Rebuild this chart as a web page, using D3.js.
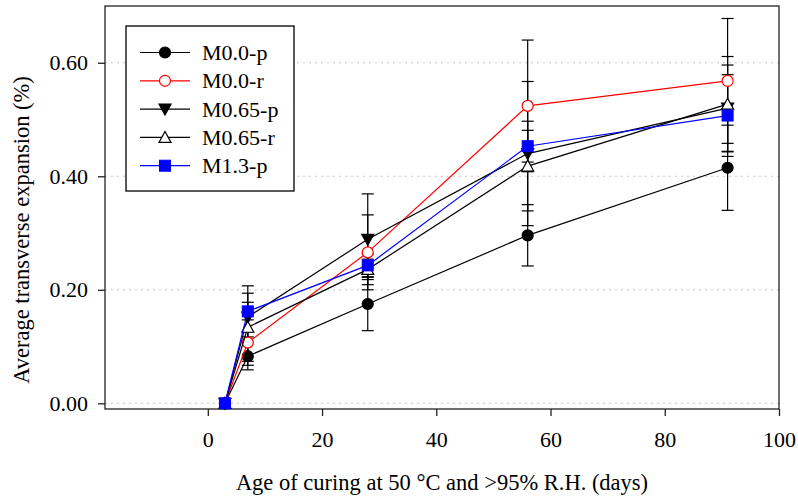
<!DOCTYPE html>
<html>
<head>
<meta charset="utf-8">
<script src="https://cdn.jsdelivr.net/npm/d3@7"></script>
<style>
  body { margin: 0; background: #fff; }
</style>
</head>
<body>
<div id="chart"></div>
<script>
var days = [3, 7, 28, 56, 91];
var seriesNames = ["M0.0-p", "M0.0-r", "M0.65-p", "M0.65-r", "M1.3-p"];
var m00p = [0, 0.083, 0.175, 0.296, 0.415];
var m00r = [0, 0.107, 0.266, 0.524, 0.568];
var m065p = [0, 0.152, 0.289, 0.440, 0.520];
var m065r = [0, 0.134, 0.236, 0.418, 0.527];
var m13p = [0, 0.162, 0.243, 0.453, 0.507];
var m00pErr = [0, 0.024, 0.047, 0.054, 0.075];
var m00rErr = [0, 0.040, 0.066, 0.116, 0.110];
var m065pErr = [0, 0.026, 0.080, 0.127, 0.076];
var m065rErr = [0, 0.060, 0.018, 0.079, 0.084];
var m13pErr = [0, 0.045, 0.020, 0.028, 0.072];
var xTicks = [0, 20, 40, 60, 80, 100];
var yTicks = [0, 0.2, 0.4, 0.6];

var width = 798, height = 501;
var margin = {left: 105, right: 19, top: 6, bottom: 92};
var serif = "Liberation Serif";

var series = [
  {name: seriesNames[0], vals: m00p, err: m00pErr, color: "#000", shape: "circle", fill: "#000"},
  {name: seriesNames[1], vals: m00r, err: m00rErr, color: "#ff0000", shape: "circle", fill: "#fff"},
  {name: seriesNames[2], vals: m065p, err: m065pErr, color: "#000", shape: "tridown", fill: "#000"},
  {name: seriesNames[3], vals: m065r, err: m065rErr, color: "#000", shape: "triup", fill: "#fff"},
  {name: seriesNames[4], vals: m13p, err: m13pErr, color: "#0000ff", shape: "square", fill: "#0000ff"}
];

var svg = d3.select("#chart").append("svg")
  .attr("width", width)
  .attr("height", height);

var x = d3.scaleLinear().domain([-18, 100]).range([margin.left, width - margin.right]);
var y = d3.scaleLinear().domain([-0.01, 0.70]).range([height - margin.bottom, margin.top]);

// grid
svg.append("g").selectAll("line")
  .data(yTicks).enter().append("line")
  .attr("x1", x(-18)).attr("x2", x(100))
  .attr("y1", d => y(d)).attr("y2", d => y(d))
  .attr("stroke", "#c8c8c8")
  .attr("stroke-width", 1)
  .attr("stroke-dasharray", "2,4");

// frame
svg.append("rect")
  .attr("x", x(-18)).attr("y", y(0.70))
  .attr("width", x(100) - x(-18))
  .attr("height", y(-0.01) - y(0.70))
  .attr("fill", "none")
  .attr("stroke", "#222")
  .attr("stroke-width", 1.3);

var xAxis = svg.append("g")
  .attr("transform", "translate(0," + y(-0.01) + ")")
  .call(d3.axisBottom(x).tickValues(xTicks).tickSize(7).tickPadding(15).tickFormat(d3.format("d")));
var yAxis = svg.append("g")
  .attr("transform", "translate(" + x(-18) + ",0)")
  .call(d3.axisLeft(y).tickValues(yTicks).tickSize(7).tickPadding(10).tickFormat(d3.format(".2f")));
[xAxis, yAxis].forEach(function(a) {
  a.attr("font-family", serif);
  a.select(".domain").remove();
  a.selectAll("line").attr("stroke", "#222").attr("stroke-width", 1.3);
  a.selectAll("text").attr("font-family", serif).attr("font-size", 22).attr("fill", "#000");
});

svg.append("text")
  .attr("x", 442)
  .attr("y", 490)
  .attr("text-anchor", "middle")
  .attr("font-family", serif)
  .attr("font-size", 22.5)
  .text("Age of curing at 50 °C and >95% R.H. (days)");

svg.append("text")
  .attr("transform", "translate(29,230) rotate(-90)")
  .attr("text-anchor", "middle")
  .attr("font-family", serif)
  .attr("font-size", 22.5)
  .text("Average transverse expansion (%)");

function marker(sel, shape, color, fill) {
  if (shape === "circle") {
    sel.append("circle").attr("r", 5.5).attr("fill", fill).attr("stroke", color).attr("stroke-width", 1.2);
  } else if (shape === "square") {
    sel.append("rect").attr("x", -5.5).attr("y", -5.5).attr("width", 11).attr("height", 11)
      .attr("fill", fill).attr("stroke", color);
  } else if (shape === "tridown") {
    sel.append("path").attr("d", "M-6,-5L6,-5L0,6Z").attr("fill", fill).attr("stroke", color).attr("stroke-width", 1.2);
  } else {
    sel.append("path").attr("d", "M-6,5L6,5L0,-6Z").attr("fill", fill).attr("stroke", color).attr("stroke-width", 1.2);
  }
}

var line = d3.line().x((d, i) => x(days[i])).y(d => y(d));

// error bars first
series.forEach(function(s) {
  var g = svg.append("g");
  s.vals.forEach(function(v, i) {
    if (s.err[i] === 0) return;
    var cx = x(days[i]);
    g.append("line").attr("x1", cx).attr("x2", cx)
      .attr("y1", y(v - s.err[i])).attr("y2", y(v + s.err[i]))
      .attr("stroke", "#000").attr("stroke-width", 1.2);
    [v - s.err[i], v + s.err[i]].forEach(function(e) {
      g.append("line").attr("x1", cx - 6).attr("x2", cx + 6)
        .attr("y1", y(e)).attr("y2", y(e))
        .attr("stroke", "#000").attr("stroke-width", 1.2);
    });
  });
});

series.forEach(function(s) {
  svg.append("path")
    .datum(s.vals)
    .attr("d", line)
    .attr("fill", "none")
    .attr("stroke", s.color)
    .attr("stroke-width", 1.2);
  svg.append("g").selectAll("g")
    .data(s.vals).enter().append("g")
    .attr("transform", (d, i) => "translate(" + x(days[i]) + "," + y(d) + ")")
    .each(function() { marker(d3.select(this), s.shape, s.color, s.fill); });
});

// legend
var legend = svg.append("g").attr("transform", "translate(126,26)");
legend.append("rect")
  .attr("width", 168).attr("height", 165)
  .attr("fill", "#fff").attr("stroke", "#000").attr("stroke-width", 1.3);
series.forEach(function(s, i) {
  var row = legend.append("g").attr("transform", "translate(0," + (26.5 + i * 28.3) + ")");
  row.append("line").attr("x1", 14).attr("x2", 64)
    .attr("stroke", s.color).attr("stroke-width", 1.2);
  var mk = row.append("g").attr("transform", "translate(39,0)");
  marker(mk, s.shape, s.color, s.fill);
  row.append("text").attr("x", 76).attr("y", 7.5)
    .attr("font-family", serif)
    .attr("font-size", 22)
    .text(s.name);
});
</script>
</body>
</html>
